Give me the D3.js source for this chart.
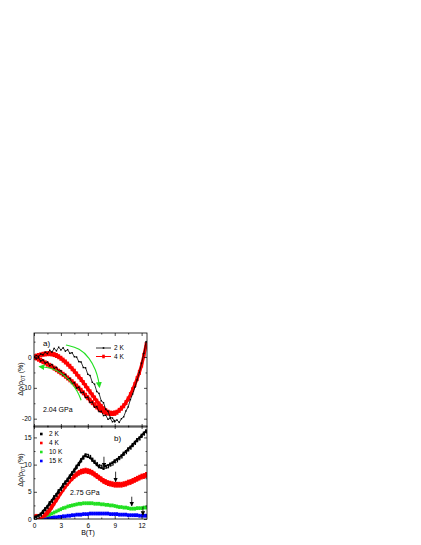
<!DOCTYPE html>
<meta charset="utf-8">
<script src="https://d3js.org/d3.v7.min.js"></script>
<style>
  body { margin: 0; background: #fff; }
  text { font-family: "Liberation Sans", Arial, sans-serif; }
</style>
<div id="chart"></div>
<script>
// field values (T)
var fieldB = [0,0.25,0.5,0.75,1,1.25,1.5,1.75,2,2.25,2.5,2.75,3,3.25,3.5,3.75,4,4.25,4.5,4.75,5,5.25,5.5,5.75,6,6.25,6.5,6.75,7,7.25,7.5,7.75,8,8.25,8.5,8.75,9,9.25,9.5,9.75,10,10.25,10.5,10.75,11,11.25,11.5,11.75,12,12.25,12.5]

// panel a) 2.04 GPa, up and down sweeps (down sweep only to 9 T)
var a2K_up = [0.0,0.5,0.2,1.0,0.7,1.6,1.1,2.2,1.6,2.8,2.0,3.2,2.3,3.0,1.9,2.4,1.2,1.4,0.1,0.0,-1.5,-1.6,-3.4,-3.5,-5.6,-6.0,-8.2,-8.8,-11.2,-11.8,-14.2,-14.8,-17.0,-17.6,-19.6,-19.8,-21.0,-20.4,-21.2,-20.0,-19.4,-17.5,-16.2,-13.8,-12.0,-9.8,-7.4,-5.0,-2.0,1.2,5.0]
var a2K_down = [0.0,-0.6,-0.2,-1.3,-0.9,-2.0,-1.6,-2.8,-2.4,-3.7,-3.3,-4.7,-4.4,-5.9,-5.6,-7.2,-6.9,-8.6,-8.3,-10.1,-9.8,-11.6,-11.4,-13.2,-13.0,-14.8,-14.6,-16.3,-16.1,-17.7,-17.6,-19.0,-18.9,-20.2,-19.9,-21.0,-20.6]
var a4K_up = [0.0,0.3,0.5,0.7,0.9,1.0,1.1,1.1,1.0,0.8,0.5,0.1,-0.4,-1.0,-1.6,-2.3,-3.0,-3.8,-4.6,-5.5,-6.4,-7.3,-8.3,-9.3,-10.3,-11.3,-12.3,-13.3,-14.3,-15.2,-16.0,-16.8,-17.4,-17.9,-18.2,-18.3,-18.2,-17.9,-17.3,-16.6,-15.8,-14.8,-13.6,-12.2,-10.6,-8.9,-7.0,-5.0,-2.6,0.5,4.0]
var a4K_down = [0.0,-0.3,-0.7,-1.1,-1.5,-1.9,-2.3,-2.7,-3.1,-3.6,-4.1,-4.6,-5.1,-5.6,-6.2,-6.8,-7.4,-8.0,-8.7,-9.4,-10.1,-10.8,-11.6,-12.4,-13.2,-14.0,-14.8,-15.5,-16.2,-16.8,-17.3,-17.7,-18.0,-18.2,-18.3,-18.3,-18.2]

// panel b) 2.75 GPa
var b2K = [0.1,0.3,0.5,0.8,1.3,1.8,2.2,2.9,3.3,4.0,4.4,5.1,5.5,6.2,6.7,7.2,7.8,8.4,8.9,9.6,10.1,10.8,11.3,11.7,11.6,11.4,10.9,10.5,10.1,9.7,9.6,9.4,9.6,9.7,10.0,10.2,10.6,10.8,11.2,11.5,12.0,12.3,12.8,13.1,13.6,14.0,14.5,14.8,15.3,15.7,16.1]
var b4K = [0.3,0.4,0.4,0.5,0.6,0.8,1.2,1.7,2.3,3.0,3.6,4.3,4.9,5.5,6.1,6.6,7.1,7.5,7.9,8.2,8.5,8.7,8.8,8.9,8.8,8.7,8.5,8.2,7.9,7.6,7.3,7.0,6.8,6.6,6.5,6.4,6.3,6.3,6.3,6.3,6.4,6.5,6.7,6.8,7.0,7.2,7.4,7.6,7.8,7.9,8.1]
var b10K = [0.3,0.3,0.4,0.4,0.5,0.6,0.7,0.8,1.0,1.2,1.4,1.6,1.8,2.0,2.1,2.3,2.4,2.5,2.6,2.7,2.8,2.8,2.9,2.9,2.9,2.9,2.9,2.8,2.8,2.8,2.7,2.7,2.6,2.6,2.5,2.5,2.4,2.3,2.2,2.2,2.1,2.1,2.0,1.9,1.9,1.9,2.0,2.0,2.0,2.1,2.1]
var b15K = [0.1,0.1,0.1,0.1,0.1,0.2,0.2,0.2,0.2,0.3,0.3,0.4,0.4,0.5,0.5,0.6,0.6,0.7,0.7,0.8,0.8,0.8,0.9,0.9,0.9,1.0,1.0,1.0,1.0,1.0,1.0,1.0,1.0,1.0,0.9,0.9,0.9,0.9,0.8,0.8,0.8,0.8,0.7,0.7,0.7,0.7,0.7,0.6,0.6,0.6,0.6]

// green sweep arrows in panel a (B, value)
var sweepUpB = [3.56,5.1,6.2,6.9,7.2,7.3]
var sweepUpV = [3.9,2.9,-0.3,-4.2,-7.5,-9.7]
var sweepDownB = [5.25,4.9,4.1,3.2,1.9,0.63]
var sweepDownV = [-14,-11.3,-8.0,-5.3,-3.5,-3.1]

// black arrows in panel b
var arrowB = [7.8, 9.1, 10.9, 12.15]
var arrowTop = [11.45, 8.7, 4.1, 2.3]
var arrowTip = [9.6, 6.85, 2.4, 0.7]

var legendA = ["2 K", "4 K"]
var legendB = ["2 K", "4 K", "10 K", "15 K"]
var colorsB = ["#000000", "#ff0000", "#22e022", "#0000ff"]

var W = 421, H = 545
var svg = d3.select("#chart").append("svg").attr("width", W).attr("height", H)

var defs = svg.append("defs")
defs.append("marker").attr("id", "greenHead").attr("viewBox", "0 0 10 10")
    .attr("refX", 8).attr("refY", 5).attr("markerWidth", 6).attr("markerHeight", 6)
    .attr("orient", "auto").attr("markerUnits", "userSpaceOnUse")
    .append("path").attr("d", "M0,0 L10,5 L0,10 z").attr("fill", "#22e022")
defs.append("marker").attr("id", "blackHead").attr("viewBox", "0 0 10 10")
    .attr("refX", 9).attr("refY", 5).attr("markerWidth", 4.5).attr("markerHeight", 5)
    .attr("orient", "auto").attr("markerUnits", "userSpaceOnUse")
    .append("path").attr("d", "M0,0 L10,5 L0,10 z").attr("fill", "#000")

var x = d3.scaleLinear().domain([0, 12.6]).range([34, 147])
var ya = d3.scaleLinear().domain([-22.7, 7.8]).range([427, 333])
var yb = d3.scaleLinear().domain([0, 17.1]).range([519, 426])

function pts(vals) {
    return vals.map(function(v, i) { return [fieldB[i], v] })
}

// axes with inward ticks on all sides
function frame(y, yMajor, yMinor, labelsX) {
    var g = svg.append("g")
    var top = y.range()[1], bot = y.range()[0]
    var fmt = function(d) { return String(d) }
    var bx = g.append("g").attr("transform", "translate(0," + bot + ")")
        .call(d3.axisBottom(x).tickValues([0, 3, 6, 9, 12]).tickSize(-3).tickPadding(4)
            .tickFormat(labelsX ? fmt : ""))
    bx.append("g").call(d3.axisBottom(x).tickValues([1.5, 4.5, 7.5, 10.5]).tickSize(-1.5).tickFormat(""))
    var tx = g.append("g").attr("transform", "translate(0," + top + ")")
        .call(d3.axisTop(x).tickValues([0, 3, 6, 9, 12]).tickSize(-3).tickFormat(""))
    tx.append("g").call(d3.axisTop(x).tickValues([1.5, 4.5, 7.5, 10.5]).tickSize(-1.5).tickFormat(""))
    var ly = g.append("g").attr("transform", "translate(" + x.range()[0] + ",0)")
        .call(d3.axisLeft(y).tickValues(yMajor).tickSize(-3).tickPadding(2.5).tickFormat(fmt))
    ly.append("g").call(d3.axisLeft(y).tickValues(yMinor).tickSize(-1.5).tickFormat(""))
    var ry = g.append("g").attr("transform", "translate(" + x.range()[1] + ",0)")
        .call(d3.axisRight(y).tickValues(yMajor).tickSize(-3).tickFormat(""))
    ry.append("g").call(d3.axisRight(y).tickValues(yMinor).tickSize(-1.5).tickFormat(""))
    g.selectAll(".domain").remove()
    g.selectAll("line").attr("stroke", "#000").attr("stroke-width", 0.7)
    g.selectAll("text").style("font-size", "6.5px").attr("fill", "#000")
    g.append("rect").attr("x", x.range()[0]).attr("y", top)
        .attr("width", x.range()[1] - x.range()[0]).attr("height", bot - top)
        .attr("fill", "none").attr("stroke", "#000").attr("stroke-width", 0.8)
}

function ylabel(cy) {
    var t = svg.append("text").attr("transform", "translate(23," + cy + ") rotate(-90)")
        .attr("text-anchor", "middle").style("font-size", "7px")
    t.append("tspan").text("\u0394\u03c1/\u03c1")
    t.append("tspan").attr("dy", 2).style("font-size", "5px").text("0T")
    t.append("tspan").attr("dy", -2).text(" (%)")
}

// ---------- panel a ----------
var clipA = defs.append("clipPath").attr("id", "clipA")
clipA.append("rect").attr("x", 34).attr("y", 333).attr("width", 113).attr("height", 94)
var pa = svg.append("g").attr("clip-path", "url(#clipA)")
var lineA = d3.line().x(function(d) { return x(d[0]) }).y(function(d) { return ya(d[1]) })

;[a4K_up, a4K_down].forEach(function(s) {
    pa.append("path").attr("d", lineA(pts(s))).attr("fill", "none")
        .attr("stroke", "#ff0000").attr("stroke-width", 3.2)
    pa.selectAll(null).data(pts(s)).enter().append("rect")
        .attr("x", function(d) { return x(d[0]) - 1.5 }).attr("y", function(d) { return ya(d[1]) - 2.5 })
        .attr("width", 3).attr("height", 5).attr("fill", "#ff0000")
})
;[a2K_up, a2K_down].forEach(function(s) {
    pa.append("path").attr("d", lineA(pts(s))).attr("fill", "none")
        .attr("stroke", "#000").attr("stroke-width", 0.8)
    pa.selectAll(null).data(pts(s)).enter().append("rect")
        .attr("x", function(d) { return x(d[0]) - 0.7 }).attr("y", function(d) { return ya(d[1]) - 0.7 })
        .attr("width", 1.4).attr("height", 1.4).attr("fill", "#000")
})

var curveLine = d3.line().x(function(d) { return x(d[0]) }).y(function(d) { return ya(d[1]) }).curve(d3.curveBasis)
;[[sweepUpB, sweepUpV], [sweepDownB, sweepDownV]].forEach(function(s) {
    svg.append("path").attr("d", curveLine(s[0].map(function(b, i) { return [b, s[1][i]] })))
        .attr("fill", "none").attr("stroke", "#22e022").attr("stroke-width", 1.1)
        .attr("marker-end", "url(#greenHead)")
})

frame(ya, [-20, -10, 0], [-15, -5, 5], false)
ylabel(379)

svg.append("text").attr("x", 43).attr("y", 346).style("font-size", "8px").text("a)")
svg.append("text").attr("x", 43).attr("y", 412).style("font-size", "7px").text("2.04 GPa")

// legend a
legendA.forEach(function(name, i) {
    var ly = 348 + i * 8.5
    var c = i === 0 ? "#000" : "#ff0000"
    svg.append("line").attr("x1", 96).attr("x2", 111).attr("y1", ly).attr("y2", ly)
        .attr("stroke", c).attr("stroke-width", i === 0 ? 0.8 : 1)
    svg.append("rect").attr("x", 103.5 - (i ? 1.3 : 0.8)).attr("y", ly - (i ? 1.8 : 0.8))
        .attr("width", i ? 2.6 : 1.6).attr("height", i ? 3.6 : 1.6).attr("fill", c)
    svg.append("text").attr("x", 114).attr("y", ly + 2.3).style("font-size", "6.5px").text(name)
})

// ---------- panel b ----------
var clipB = defs.append("clipPath").attr("id", "clipB")
clipB.append("rect").attr("x", 34).attr("y", 426).attr("width", 113).attr("height", 93)
var pb = svg.append("g").attr("clip-path", "url(#clipB)")
var lineB = d3.line().x(function(d) { return x(d[0]) }).y(function(d) { return yb(d[1]) })

var seriesB = [b15K, b10K, b4K, b2K]
var colB = [colorsB[3], colorsB[2], colorsB[1], colorsB[0]]
var widthB = [2.2, 2.2, 4.2, 2.6]
seriesB.forEach(function(s, k) {
    pb.append("path").attr("d", lineB(pts(s))).attr("fill", "none")
        .attr("stroke", colB[k]).attr("stroke-width", widthB[k])
    pb.selectAll(null).data(pts(s)).enter().append("rect")
        .attr("x", function(d) { return x(d[0]) - 1.1 })
        .attr("y", function(d) { return yb(d[1]) - widthB[k] / 2 - 0.8 })
        .attr("width", 2.2).attr("height", widthB[k] + 1.6).attr("fill", colB[k])
})
// white specks in the 2 K band
pb.selectAll(null).data(pts(b2K)).enter().append("rect")
    .attr("x", function(d) { return x(d[0]) + 1.2 }).attr("y", function(d) { return yb(d[1]) - 0.5 })
    .attr("width", 1).attr("height", 1).attr("fill", "#fff")

arrowB.forEach(function(b, i) {
    svg.append("line").attr("x1", x(b)).attr("x2", x(b))
        .attr("y1", yb(arrowTop[i])).attr("y2", yb(arrowTip[i]))
        .attr("stroke", "#000").attr("stroke-width", 0.8).attr("marker-end", "url(#blackHead)")
})

frame(yb, [0, 5, 10, 15], [2.5, 7.5, 12.5], true)
ylabel(470)

svg.append("text").attr("x", 114).attr("y", 441).style("font-size", "8px").text("b)")
svg.append("text").attr("x", 70).attr("y", 495).style("font-size", "7px").text("2.75 GPa")
svg.append("text").attr("x", 88).attr("y", 535).attr("text-anchor", "middle")
    .style("font-size", "7px").text("B(T)")

legendB.forEach(function(name, i) {
    var ly = 434 + i * 9
    svg.append("rect").attr("x", 40).attr("y", ly - 1.3).attr("width", 2.6).attr("height", 2.6)
        .attr("fill", colorsB[i])
    svg.append("text").attr("x", 49).attr("y", ly + 2.3).style("font-size", "6.5px").text(name)
})
</script>
